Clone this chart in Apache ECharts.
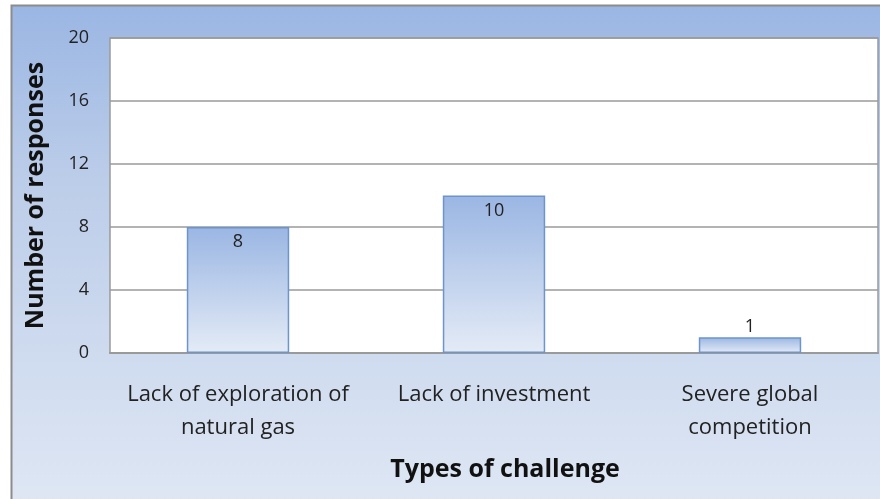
<!DOCTYPE html>
<html><head><meta charset="utf-8">
<script src="https://cdn.jsdelivr.net/npm/echarts@6/dist/echarts.min.js"></script>
<style>html,body{margin:0;padding:0;background:#fff}#c{width:880px;height:499px}</style>
</head><body><div id="c"></div>
<script>
var categories = ['Lack of exploration of\nnatural gas', 'Lack of investment', 'Severe global\ncompetition'];
var responses = [8, 10, 1];
var yTicks = {min: 0, max: 20, interval: 4};

var chart = echarts.init(document.getElementById('c'), null, {renderer: 'canvas'});
var font = '"Open Sans", "Noto Sans", sans-serif';
chart.setOption({
  animation: false,
  graphic: [{
    type: 'rect', z: -10, silent: true,
    shape: {x: 11.5, y: 5.5, width: 880, height: 500},
    style: {
      fill: new echarts.graphic.LinearGradient(0, 0, 0, 1, [
        {offset: 0, color: '#9ab6e3'}, {offset: 0.35, color: '#bccde9'}, {offset: 1, color: '#dfe7f4'}
      ]),
      stroke: '#8c8c8c', lineWidth: 2
    }
  }],
  grid: {left: 110, top: 38, right: 2, bottom: 146, show: true, backgroundColor: '#ffffff', borderColor: '#9a9a9a', borderWidth: 1.5},
  xAxis: {
    type: 'category', data: categories,
    name: 'Types of challenge', nameLocation: 'middle', nameGap: 104,
    nameTextStyle: {fontFamily: font, fontSize: 25, fontWeight: 'bold', color: '#111', padding: [0, 0, 0, 22]},
    axisLine: {lineStyle: {color: '#9a9a9a', width: 2}},
    axisTick: {show: false},
    axisLabel: {fontFamily: font, fontSize: 22, color: '#222', margin: 25, lineHeight: 33, interval: 0}
  },
  yAxis: {
    type: 'value', min: yTicks.min, max: yTicks.max, interval: yTicks.interval,
    name: 'Number of responses', nameLocation: 'middle', nameGap: 62,
    nameTextStyle: {fontFamily: font, fontSize: 25, fontWeight: 'bold', color: '#111'},
    axisLine: {show: false}, axisTick: {show: false},
    axisLabel: {fontFamily: font, fontSize: 18, color: '#222', margin: 21},
    splitLine: {lineStyle: {color: '#9a9a9a', width: 1.5}}
  },
  series: [{
    type: 'bar', data: responses.map(function (v) {
      return {value: v, label: {position: v < 3 ? 'top' : 'insideTop', distance: v < 3 ? 1 : 6}};
    }),
    barWidth: '40%',
    itemStyle: {
      color: new echarts.graphic.LinearGradient(0, 0, 0, 1, [
        {offset: 0, color: '#9ab6e3'}, {offset: 1, color: '#e4ebf6'}
      ]),
      borderColor: '#6d94cb', borderWidth: 1.5
    },
    label: {show: true, fontFamily: font, fontSize: 18, color: '#222'}
  }]
});
</script></body></html>
